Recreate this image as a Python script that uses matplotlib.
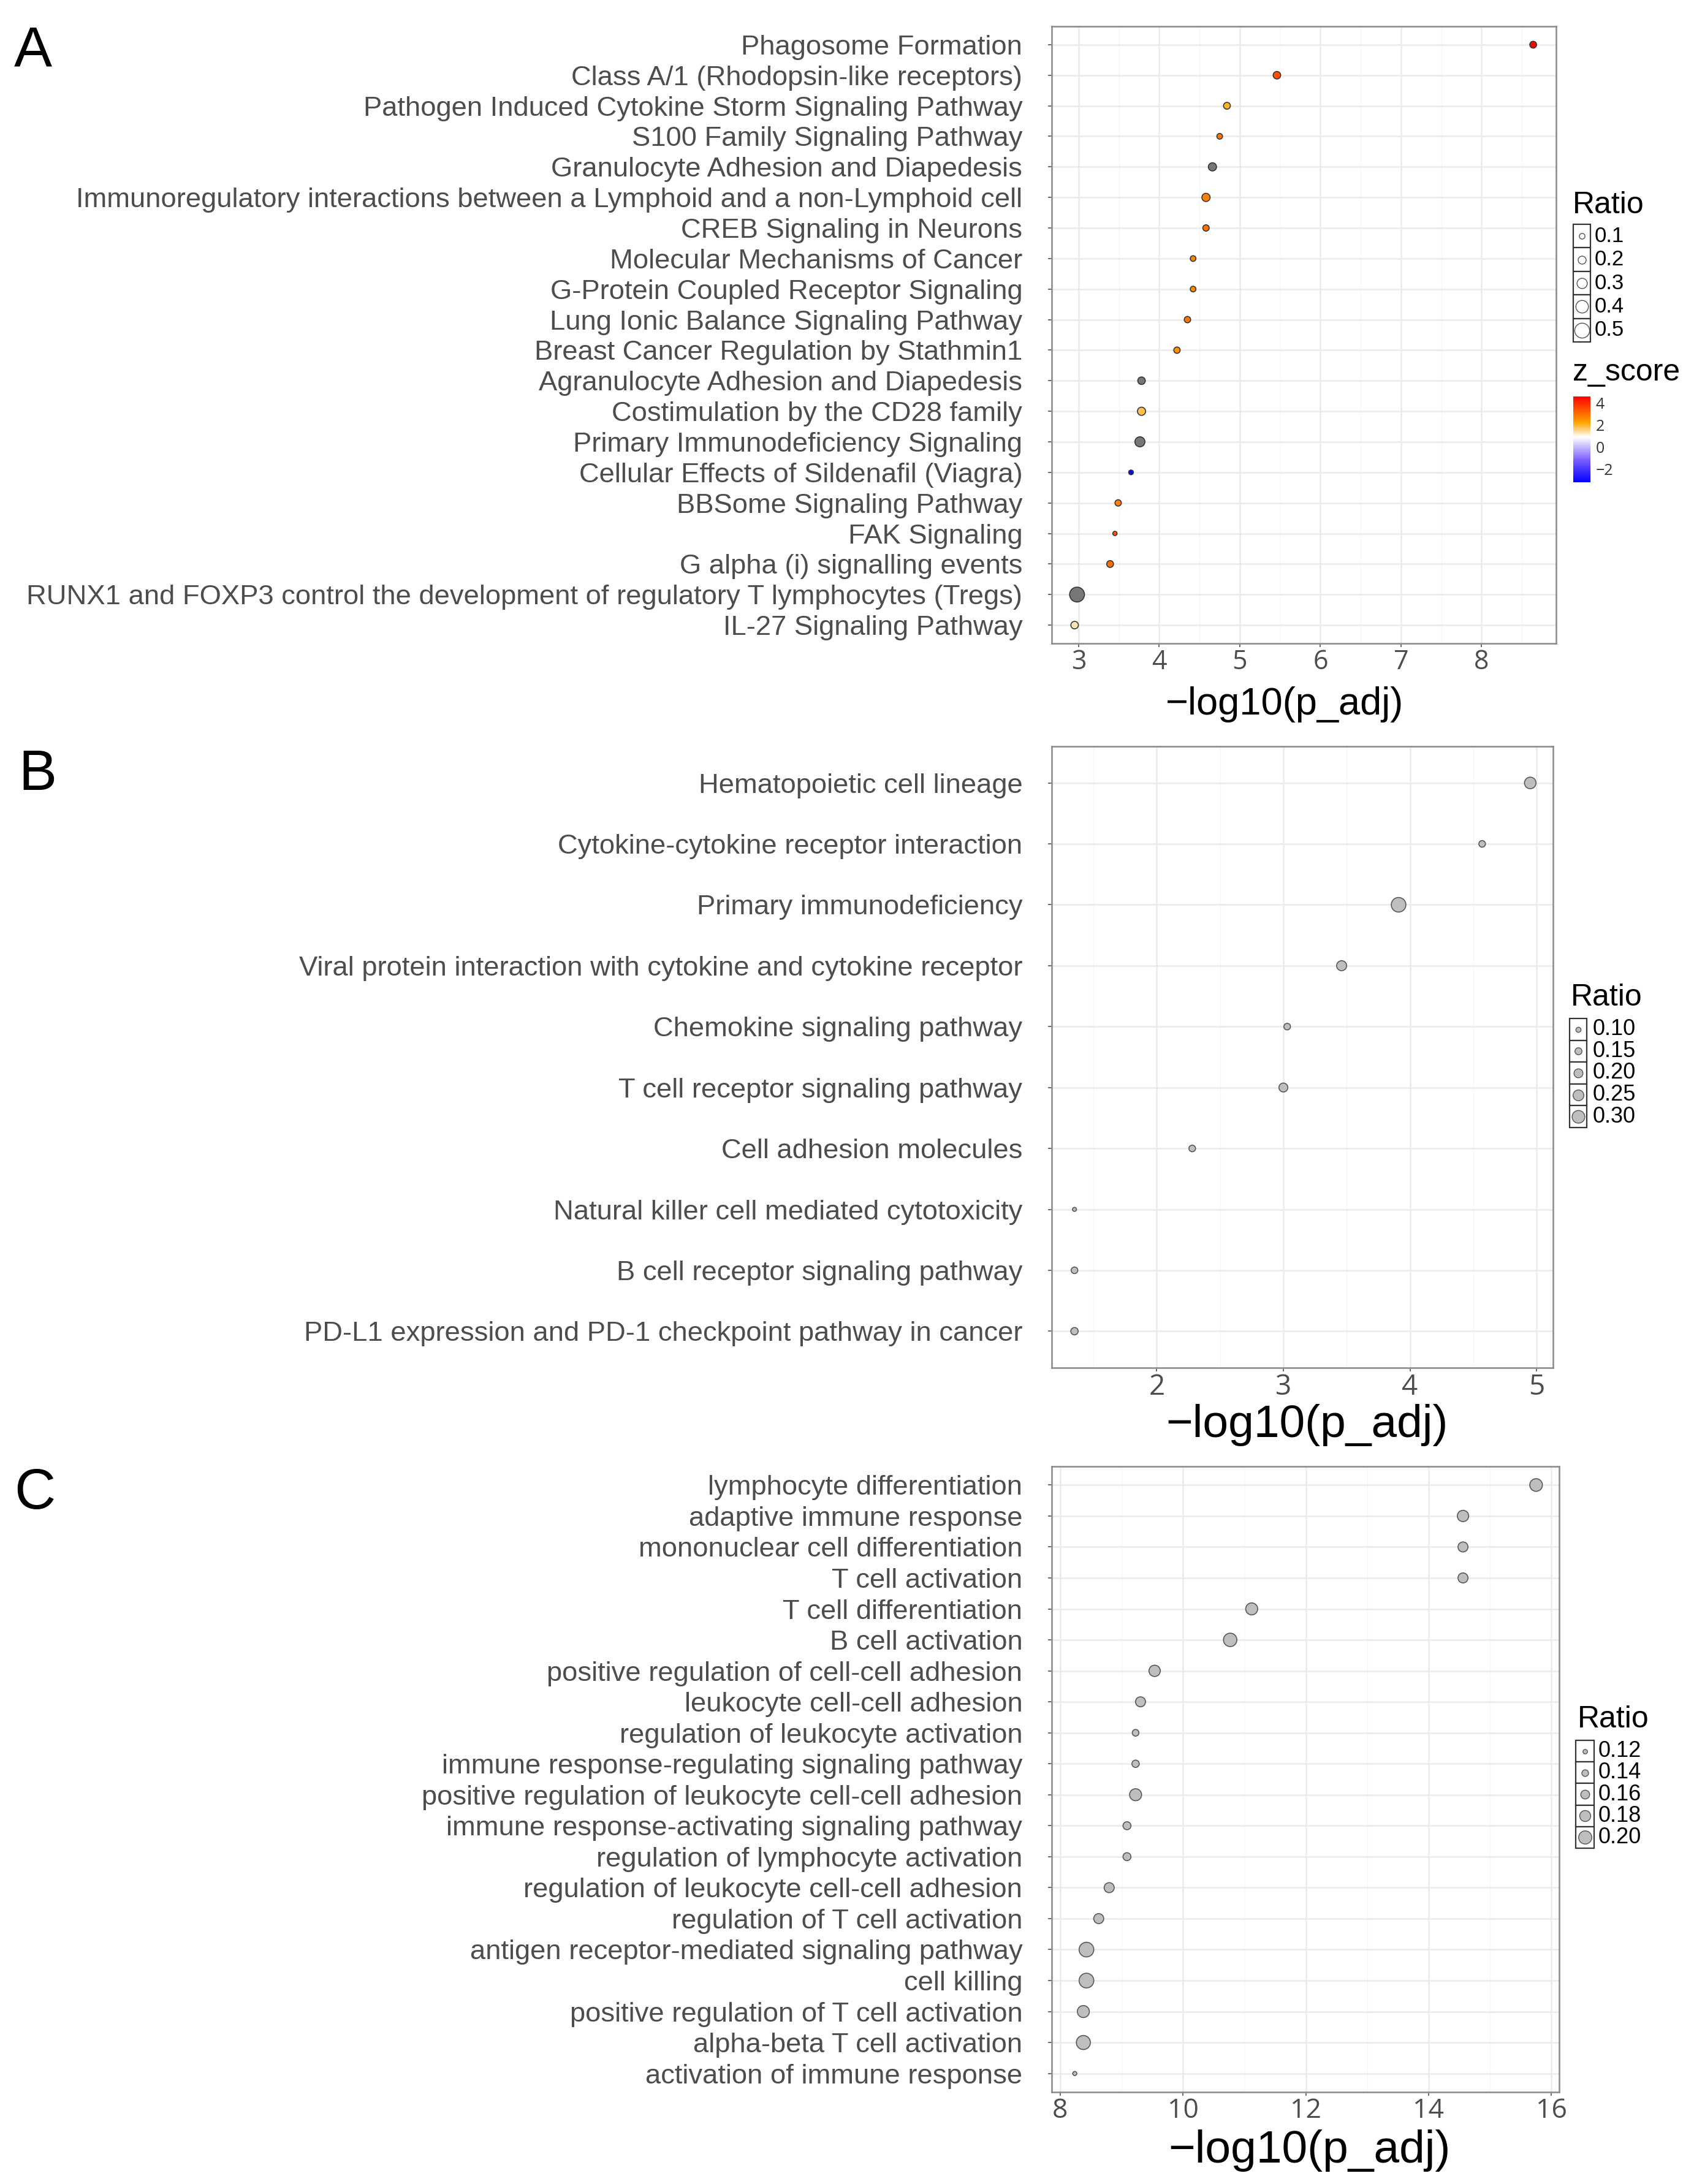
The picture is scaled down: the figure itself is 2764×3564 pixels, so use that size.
import numpy as np
import matplotlib
matplotlib.use("Agg")
import matplotlib.pyplot as plt
from matplotlib.colors import LinearSegmentedColormap, Normalize
from matplotlib.patches import Rectangle
from matplotlib.cm import ScalarMappable

# ---------------- Panel A data ----------------
a_terms = [
    "Phagosome Formation",
    "Class A/1 (Rhodopsin-like receptors)",
    "Pathogen Induced Cytokine Storm Signaling Pathway",
    "S100 Family Signaling Pathway",
    "Granulocyte Adhesion and Diapedesis",
    "Immunoregulatory interactions between a Lymphoid and a non-Lymphoid cell",
    "CREB Signaling in Neurons",
    "Molecular Mechanisms of Cancer",
    "G-Protein Coupled Receptor Signaling",
    "Lung Ionic Balance Signaling Pathway",
    "Breast Cancer Regulation by Stathmin1",
    "Agranulocyte Adhesion and Diapedesis",
    "Costimulation by the CD28 family",
    "Primary Immunodeficiency Signaling",
    "Cellular Effects of Sildenafil (Viagra)",
    "BBSome Signaling Pathway",
    "FAK Signaling",
    "G alpha (i) signalling events",
    "RUNX1 and FOXP3 control the development of regulatory T lymphocytes (Tregs)",
    "IL-27 Signaling Pathway",
]
a_logp = [8.64, 5.46, 4.84, 4.75, 4.66, 4.58, 4.58, 4.42, 4.42, 4.35,
          4.22, 3.78, 3.78, 3.76, 3.65, 3.49, 3.45, 3.39, 2.98, 2.95]
a_ratio = [0.15, 0.18, 0.15, 0.10, 0.21, 0.21, 0.13, 0.10, 0.10, 0.13,
           0.13, 0.18, 0.21, 0.29, 0.06, 0.13, 0.04, 0.15, 0.50, 0.18]
a_z = [4.5, 3.4, 2.0, 2.85, np.nan, 2.7, 2.96, 2.7, 2.6, 2.85,
       2.5, np.nan, 1.8, np.nan, -3.0, 2.7, 3.3, 3.0, np.nan, 1.3]
a_xticks = [3, 4, 5, 6, 7, 8]
a_ratio_breaks = [0.1, 0.2, 0.3, 0.4, 0.5]
a_ratio_labels = ["0.1", "0.2", "0.3", "0.4", "0.5"]
z_breaks = [4, 2, 0, -2]
z_labels = ["4", "2", "0", "\u22122"]

# ---------------- Panel B data ----------------
b_terms = [
    "Hematopoietic cell lineage",
    "Cytokine-cytokine receptor interaction",
    "Primary immunodeficiency",
    "Viral protein interaction with cytokine and cytokine receptor",
    "Chemokine signaling pathway",
    "T cell receptor signaling pathway",
    "Cell adhesion molecules",
    "Natural killer cell mediated cytotoxicity",
    "B cell receptor signaling pathway",
    "PD-L1 expression and PD-1 checkpoint pathway in cancer",
]
b_logp = [4.95, 4.57, 3.91, 3.46, 3.03, 3.00, 2.28, 1.35, 1.35, 1.35]
b_ratio = [0.27, 0.14, 0.35, 0.23, 0.14, 0.20, 0.14, 0.07, 0.14, 0.16]
b_xticks = [2, 3, 4, 5]
b_ratio_breaks = [0.10, 0.15, 0.20, 0.25, 0.30]
b_ratio_labels = ["0.10", "0.15", "0.20", "0.25", "0.30"]

# ---------------- Panel C data ----------------
c_terms = [
    "lymphocyte differentiation",
    "adaptive immune response",
    "mononuclear cell differentiation",
    "T cell activation",
    "T cell differentiation",
    "B cell activation",
    "positive regulation of cell-cell adhesion",
    "leukocyte cell-cell adhesion",
    "regulation of leukocyte activation",
    "immune response-regulating signaling pathway",
    "positive regulation of leukocyte cell-cell adhesion",
    "immune response-activating signaling pathway",
    "regulation of lymphocyte activation",
    "regulation of leukocyte cell-cell adhesion",
    "regulation of T cell activation",
    "antigen receptor-mediated signaling pathway",
    "cell killing",
    "positive regulation of T cell activation",
    "alpha-beta T cell activation",
    "activation of immune response",
]
c_logp = [15.75, 14.56, 14.56, 14.56, 11.12, 10.77, 9.54, 9.31, 9.23, 9.23,
          9.23, 9.09, 9.09, 8.80, 8.63, 8.43, 8.43, 8.38, 8.38, 8.24]
c_ratio = [0.195, 0.183, 0.171, 0.171, 0.189, 0.202, 0.183, 0.171, 0.140, 0.146,
           0.189, 0.152, 0.152, 0.171, 0.171, 0.214, 0.214, 0.189, 0.208, 0.116]
c_xticks = [8, 10, 12, 14, 16]
c_ratio_breaks = [0.12, 0.14, 0.16, 0.18, 0.20]
c_ratio_labels = ["0.12", "0.14", "0.16", "0.18", "0.20"]

# ---------------- figure setup ----------------
W, H = 2764, 3564
DPI = 100
fig = plt.figure(figsize=(W / DPI, H / DPI), dpi=DPI)
fig.patch.set_facecolor("white")

LABEL_FONT = ["Liberation Sans", "DejaVu Sans"]
TICK_FONT = ["Open Sans", "DejaVu Sans"]


def pt(px):
    return px * 72.0 / DPI


def frac(l, t, r, b):
    return [l / W, 1 - b / H, (r - l) / W, (b - t) / H]


def diam_a(r):
    return 5.5 + 37.5 * r


def diam_b(r):
    return 2.1 + 62.0 * r


def diam_c(r):
    return -14.0 + 177.5 * r


zmin, zmax = -3.2, 4.56
z_nodes = [(-3.2, "#0000FF"), (-1.2, "#7A5CFF"), (0.9, "#FFFFFF"),
           (2.2, "#FFA500"), (4.56, "#FF0000")]
zcmap = LinearSegmentedColormap.from_list(
    "zs", [((v - zmin) / (zmax - zmin), c) for v, c in z_nodes])
znorm = Normalize(vmin=zmin, vmax=zmax)


def panel(rect, terms, xs, ratios, fills, xticks, xstep, diam_fn, tick_fs, edge):
    ax = fig.add_axes(frac(*rect))
    n = len(terms)
    y = np.arange(1, n + 1)
    ax.set_xticks(xticks)
    ax.set_xticklabels([str(t) for t in xticks], fontsize=tick_fs,
                       color="#4D4D4D", family=TICK_FONT)
    minors = np.arange(xticks[0] - xstep / 2, xticks[-1] + xstep, xstep)
    ax.set_xticks(minors, minor=True)
    ax.set_yticks(y)
    ax.set_yticklabels(terms, fontsize=32.7, color="#4D4D4D", family=LABEL_FONT)
    lo, hi = min(xs), max(xs)
    pad = 0.05 * (hi - lo)
    ax.set_axisbelow(True)
    ax.grid(True, which="major", color="#EBEBEB", lw=pt(2.6))
    ax.grid(True, which="minor", axis="x", color="#F4F4F4", lw=pt(1.3))
    for s in ax.spines.values():
        s.set_color("#8C8C8C")
        s.set_linewidth(pt(2.6))
    ax.tick_params(axis="y", which="major", length=pt(6), width=pt(2),
                   color="#6E6E6E", pad=30)
    ax.tick_params(axis="x", which="major", length=pt(6), width=pt(2),
                   color="#6E6E6E", pad=pt(3))
    ax.tick_params(axis="x", which="minor", length=0)
    sizes = [pt(diam_fn(r)) ** 2 for r in ratios]
    ax.scatter(xs, y, s=sizes, c=fills, edgecolors=edge, linewidths=pt(1.6),
               zorder=3, clip_on=False)
    ax.set_xlim(lo - pad, hi + pad)
    ax.set_ylim(n + 0.6, 0.4)
    return ax


# Panel A colours from z_score (NA -> grey)
a_fill = [zcmap(znorm(z)) if not np.isnan(z) else "#777777" for z in a_z]

panel((1716, 43, 2539, 1050), a_terms, a_logp, a_ratio, a_fill,
      a_xticks, 1, diam_a, 31, "#333333")
panel((1716, 1218, 2534, 2232), b_terms, b_logp, b_ratio,
      ["#BEBEBE"] * len(b_terms), b_xticks, 1, diam_b, 33, "#555555")
panel((1716, 2393, 2544, 3414), c_terms, c_logp, c_ratio,
      ["#BEBEBE"] * len(c_terms), c_xticks, 2, diam_c, 32, "#555555")

# x-axis titles
TITLE = "\u2212log10(p_adj)"
fig.text(2096 / W, 1 - 1150 / H, TITLE, fontsize=45.5, family=LABEL_FONT,
         ha="center", va="center", color="black")
fig.text(2132 / W, 1 - 2325 / H, TITLE, fontsize=54, family=LABEL_FONT,
         ha="center", va="center", color="black")
fig.text(2136 / W, 1 - 3510 / H, TITLE, fontsize=54, family=LABEL_FONT,
         ha="center", va="center", color="black")

# panel letters
for letter, xpx, base in (("A", 23, 109), ("B", 30, 1289), ("C", 23, 2462)):
    fig.text(xpx / W, 1 - base / H, letter, fontsize=67, family=LABEL_FONT,
             ha="left", va="baseline", color="black")

# ---------------- legends (overlay in pixel coordinates) ----------------
ov = fig.add_axes([0, 0, 1, 1], zorder=10)
ov.set_xlim(0, W)
ov.set_ylim(H, 0)
ov.axis("off")
ov.patch.set_alpha(0)


def size_legend(breaks, labels, diam_fn, title_x, title_top, box_l, box_r,
                box_top, key_h, label_x, fill, edge, label_fs):
    ov.text(title_x, title_top, "Ratio", fontsize=36, family=LABEL_FONT,
            ha="left", va="top", color="black")
    for i, (b, lab) in enumerate(zip(breaks, labels)):
        top = box_top + i * key_h
        ov.add_patch(Rectangle((box_l, top), box_r - box_l, key_h,
                               facecolor="white", edgecolor="#333333",
                               lw=pt(2.2)))
        cy = top + key_h / 2
        ov.scatter([(box_l + box_r) / 2], [cy], s=pt(diam_fn(b)) ** 2,
                   c=fill, edgecolors=edge, linewidths=pt(1.4), zorder=5)
        ov.text(label_x, cy, lab, fontsize=label_fs, family=LABEL_FONT,
                ha="left", va="center", color="black")


size_legend(a_ratio_breaks, a_ratio_labels, diam_a, 2566, 312, 2567, 2595,
            366, 38.4, 2602, "white", "#555555", 25)
size_legend(b_ratio_breaks, b_ratio_labels, diam_b, 2563, 1605, 2561, 2589,
            1662, 35.6, 2599, "#BEBEBE", "#555555", 26)
size_legend(c_ratio_breaks, c_ratio_labels, diam_c, 2574, 2783, 2571, 2601,
            2840, 35.2, 2608, "#BEBEBE", "#555555", 26)

# z_score colourbar
ov.text(2566, 585, "z_score", fontsize=36, family=LABEL_FONT,
        ha="left", va="top", color="black")
cax = fig.add_axes(frac(2567, 647, 2595, 787), zorder=11)
cb = fig.colorbar(ScalarMappable(norm=znorm, cmap=zcmap), cax=cax,
                  orientation="vertical")
cb.outline.set_visible(False)
cb.set_ticks(z_breaks)
cb.set_ticklabels(z_labels)
cax.tick_params(length=pt(5), width=pt(1.5), color="white", labelsize=18,
                labelcolor="#333333", pad=pt(4))
for t in cax.get_yticklabels():
    t.set_family(TICK_FONT)

fig.savefig("out.png", dpi=DPI, facecolor="white")
